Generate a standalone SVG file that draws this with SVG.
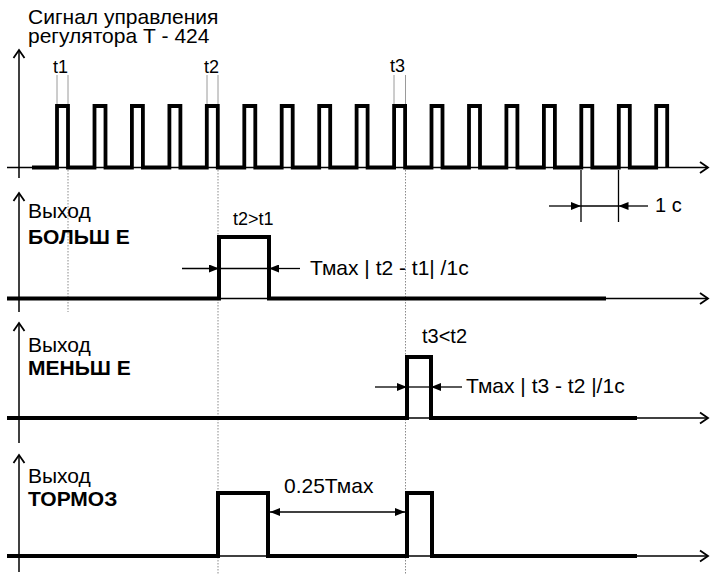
<svg xmlns="http://www.w3.org/2000/svg" width="712" height="574" viewBox="0 0 712 574">
<defs>
<marker id="open" markerUnits="userSpaceOnUse" markerWidth="12" markerHeight="14" refX="9" refY="6" orient="auto" viewBox="0 0 12 12">
<path d="M1,0.5 L9,6 L1,11.5" fill="none" stroke="#000" stroke-width="1.8"/>
</marker>
<marker id="tri" markerUnits="userSpaceOnUse" markerWidth="10" markerHeight="8" refX="10" refY="4" orient="auto" viewBox="0 0 10 8">
<path d="M0,0 L10,4 L0,8 z" fill="#000"/>
</marker>
<style>
.t{font-family:"Liberation Sans",Arial,sans-serif;font-size:21px;fill:#000}
.b{font-weight:bold}
.s{font-size:18px}
.axis{stroke:#000;stroke-width:1.5;fill:none}
.sig{stroke:#000;stroke-width:4;fill:none;stroke-linejoin:miter}
.sig1{stroke:#000;stroke-width:3.8;fill:none}
.dot{stroke:#8a8a8a;stroke-width:1;stroke-dasharray:1.5 1.5;fill:none}
.tick{stroke:#9a9a9a;stroke-width:1;fill:none}
.dim{stroke:#000;stroke-width:1.3;fill:none}
</style>
</defs>

<g id="connectors">
<path class="dot" d="M68,170 V312"/>
<path class="dot" d="M218,170 V574"/>
<path class="dot" d="M405.5,170 V574"/>
<path class="tick" d="M57,75 V104 M68,75 V104 M207,75 V104 M218,75 V104 M394,75 V104 M405.5,75 V104"/>
<path class="dim" d="M581,170 V222 M618.5,170 V222"/>
<path class="dim" d="M581,206 H618.5"/>
<path class="dim" d="M549,206 H581" marker-end="url(#tri)"/>
<path class="dim" d="M648,206 H618.5" marker-end="url(#tri)"/>
<path class="dim" d="M219,268.5 H269"/>
<path class="dim" d="M182,268.5 H219" marker-end="url(#tri)"/>
<path class="dim" d="M300,268.5 H269" marker-end="url(#tri)"/>
<path class="dim" d="M407,387 H431"/>
<path class="dim" d="M375,387 H407" marker-end="url(#tri)"/>
<path class="dim" d="M462,387 H431" marker-end="url(#tri)"/>
<path class="dim" d="M337,512 H270" marker-end="url(#tri)"/>
<path class="dim" d="M337,512 H405" marker-end="url(#tri)"/>
</g>

<g id="panel-signal">
<path class="axis" d="M19,178 V50" marker-end="url(#open)"/>
<path class="axis" d="M7,167.5 H708" marker-end="url(#open)"/>
<path class="sig1" d="M32,167.5 H57 V106 H68 V167.5 H94.5 V106 H105.5 V167.5 H131.9 V106 H142.9 V167.5 H169.4 V106 H180.4 V167.5 H206.8 V106 H217.8 V167.5 H244.3 V106 H255.3 V167.5 H281.7 V106 H292.7 V167.5 H319.2 V106 H330.2 V167.5 H356.6 V106 H367.6 V167.5 H394.1 V106 H405.1 V167.5 H431.5 V106 H442.5 V167.5 H469 V106 H480 V167.5 H506.4 V106 H517.4 V167.5 H543.9 V106 H554.9 V167.5 H581.3 V106 H592.3 V167.5 H618.8 V106 H629.8 V167.5 H656.2 V106 H667.2 V167.5"/>
<text class="t" x="28" y="24">Сигнал управления</text>
<text class="t" x="28" y="43">регулятора Т - 424</text>
<text class="t s" x="53" y="73">t1</text>
<text class="t s" x="204" y="73">t2</text>
<text class="t s" x="390" y="72">t3</text>
<text class="t" x="655" y="212" style="font-size:20px">1 с</text>
</g>

<g id="panel-bolshe">
<path class="axis" d="M19,312 V193" marker-end="url(#open)"/>
<path class="axis" d="M7,298.5 H708" marker-end="url(#open)"/>
<path class="sig" d="M7,298.5 H219 V237 H269 V298.5 H606"/>
<text class="t" x="28" y="218">Выход</text>
<text class="t b" x="28" y="244">БОЛЬШ Е</text>
<text class="t s" x="233" y="225">t2&gt;t1</text>
<text class="t" x="310" y="275">Тмах | t2 - t1| /1c</text>
</g>

<g id="panel-menshe">
<path class="axis" d="M19,443 V323" marker-end="url(#open)"/>
<path class="axis" d="M7,418 H708" marker-end="url(#open)"/>
<path class="sig" d="M7,418 H407 V357 H431 V418 H637"/>
<text class="t" x="28" y="352">Выход</text>
<text class="t b" x="28" y="375">МЕНЬШ Е</text>
<text class="t" x="422" y="343" style="font-size:20px">t3&lt;t2</text>
<text class="t" x="466" y="393">Тмах | t3 - t2 |/1c</text>
</g>

<g id="panel-tormoz">
<path class="axis" d="M19,572 V455" marker-end="url(#open)"/>
<path class="axis" d="M7,556 H708" marker-end="url(#open)"/>
<path class="sig" d="M7,556 H218 V493 H268 V556 H407 V493 H432 V556 H637"/>
<text class="t" x="28" y="483">Выход</text>
<text class="t b" x="28" y="506">ТОРМОЗ</text>
<text class="t" x="284" y="493">0.25Тмах</text>
</g>
</svg>
